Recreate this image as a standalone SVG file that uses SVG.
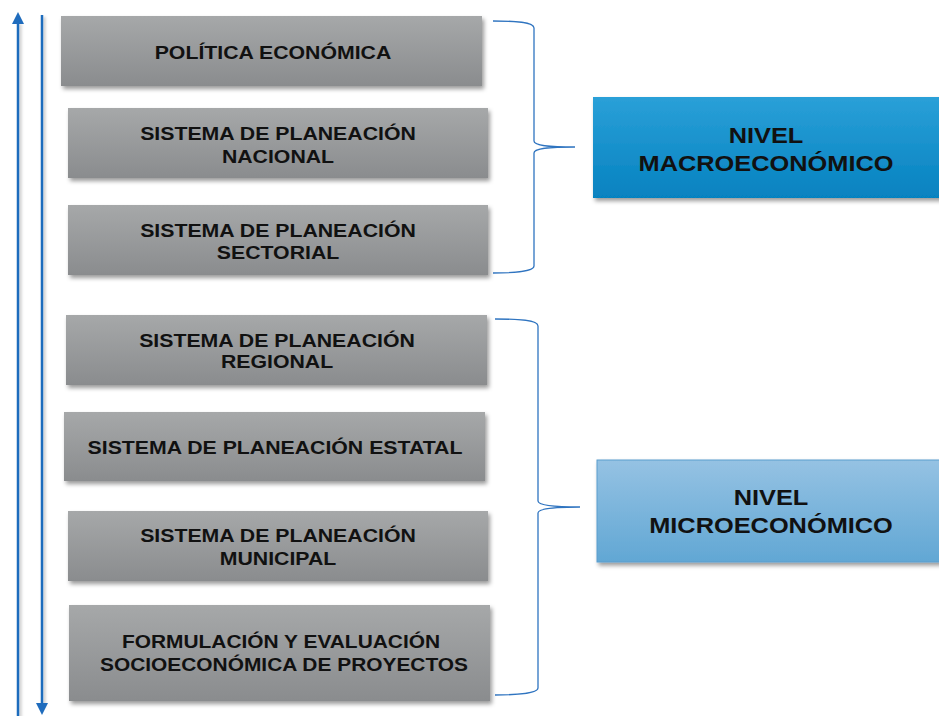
<svg xmlns="http://www.w3.org/2000/svg" width="939" height="716" viewBox="0 0 939 716">
<style>
.g{fill:url(#gray);filter:url(#sh)}
.t{font-family:"Liberation Sans",Arial,sans-serif;font-weight:bold;font-size:19px;fill:#111;text-anchor:middle}
.tb{font-family:"Liberation Sans",Arial,sans-serif;font-weight:bold;font-size:21.5px;fill:#111;text-anchor:middle}
.br{fill:none;stroke:#2f74c0;stroke-width:1.3}
.ax{stroke:#1f6cbd;stroke-width:2.5;fill:none;filter:url(#lsh)}
</style>
<defs>
<linearGradient id="gray" x1="0" y1="0" x2="0" y2="1">
<stop offset="0" stop-color="#a6a8a9"/>
<stop offset="1" stop-color="#8a8c8e"/>
</linearGradient>
<linearGradient id="macro" x1="0" y1="0" x2="0" y2="1">
<stop offset="0" stop-color="#2aa0d8"/>
<stop offset="1" stop-color="#0682c0"/>
</linearGradient>
<linearGradient id="micro" x1="0" y1="0" x2="0" y2="1">
<stop offset="0" stop-color="#95c2e3"/>
<stop offset="1" stop-color="#61a7d4"/>
</linearGradient>
<filter id="sh" x="-5%" y="-10%" width="115%" height="130%">
<feDropShadow dx="2" dy="3" stdDeviation="2" flood-color="#000" flood-opacity="0.4"/>
</filter>
<filter id="lsh" filterUnits="userSpaceOnUse" x="0" y="0" width="100" height="716">
<feDropShadow dx="2" dy="2" stdDeviation="1.5" flood-color="#000" flood-opacity="0.25"/>
</filter>
</defs>
<g id="connectors">
<line class="ax" x1="18" y1="22" x2="18" y2="716"/>
<polygon points="12,24 18,12 24,24" fill="#1f6cbd"/>
<line class="ax" x1="42" y1="15" x2="42" y2="705"/>
<polygon points="36,703 42,715 48,703" fill="#1f6cbd"/>
<path class="br" d="M493,21 C515,21 534,22 534,28 L534,141 C534,145 545,147 575,147 C545,147 534,149 534,153 L534,266 C534,271 515,273 493,273"/>
<path class="br" d="M495,319 C518,319 538,320 538,326 L538,501 C538,505 550,507 580,507 C550,507 538,509 538,513 L538,688 C538,693 518,695 495,695"/>
</g>
<g id="n1">
<rect class="g" x="61" y="16" width="421" height="70"/>
<text class="t" transform="translate(273,59) scale(1.12,1)">POLÍTICA ECONÓMICA</text>
</g>
<g id="n2">
<rect class="g" x="68" y="108" width="420" height="70"/>
<text class="t" transform="translate(278,140) scale(1.12,1)">SISTEMA DE PLANEACIÓN</text>
<text class="t" transform="translate(278,163) scale(1.12,1)">NACIONAL</text>
</g>
<g id="n3">
<rect class="g" x="68" y="205" width="420" height="70"/>
<text class="t" transform="translate(278,237) scale(1.12,1)">SISTEMA DE PLANEACIÓN</text>
<text class="t" transform="translate(278,259) scale(1.12,1)">SECTORIAL</text>
</g>
<g id="n4">
<rect class="g" x="66" y="315" width="421" height="70"/>
<text class="t" transform="translate(277,347) scale(1.12,1)">SISTEMA DE PLANEACIÓN</text>
<text class="t" transform="translate(277,368) scale(1.12,1)">REGIONAL</text>
</g>
<g id="n5">
<rect class="g" x="64" y="412" width="421" height="69"/>
<text class="t" transform="translate(275,454) scale(1.12,1)">SISTEMA DE PLANEACIÓN ESTATAL</text>
</g>
<g id="n6">
<rect class="g" x="68" y="511" width="420" height="70"/>
<text class="t" transform="translate(278,542) scale(1.12,1)">SISTEMA DE PLANEACIÓN</text>
<text class="t" transform="translate(278,565) scale(1.12,1)">MUNICIPAL</text>
</g>
<g id="n7">
<rect class="g" x="69" y="605" width="421" height="96"/>
<text class="t" transform="translate(281,648) scale(1.1,1)">FORMULACIÓN Y EVALUACIÓN</text>
<text class="t" transform="translate(284,671) scale(1.1,1)">SOCIOECONÓMICA DE PROYECTOS</text>
</g>
<g id="macro-box">
<rect x="593" y="97" width="350" height="101" fill="url(#macro)" filter="url(#sh)"/>
<text class="tb" transform="translate(766,143) scale(1.18,1)">NIVEL</text>
<text class="tb" transform="translate(766,171) scale(1.18,1)">MACROECONÓMICO</text>
</g>
<g id="micro-box">
<rect x="597" y="460" width="346" height="102" fill="url(#micro)" stroke="#5b9dcd" stroke-width="1" filter="url(#sh)"/>
<text class="tb" transform="translate(771,505) scale(1.18,1)">NIVEL</text>
<text class="tb" transform="translate(771,533) scale(1.18,1)">MICROECONÓMICO</text>
</g>
</svg>
